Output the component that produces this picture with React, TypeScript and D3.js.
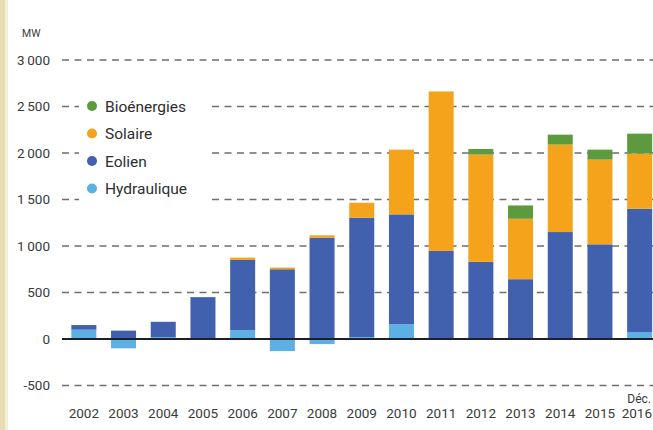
import React from "react";
import * as d3 from "d3";

const years = ["2002","2003","2004","2005","2006","2007","2008","2009","2010","2011","2012","2013","2014","2015","2016"];
const hydraulique = [100, -100, 20, 0, 95, -130, -55, 20, 160, 0, 0, 0, 0, 0, 75];
const eolien = [50, 90, 165, 450, 755, 750, 1090, 1285, 1180, 947, 829, 643, 1150, 1018, 1325];
const solaire = [0, 0, 0, 0, 25, 18, 25, 160, 696, 1715, 1154, 650, 940, 911, 594];
const bioenergies = [0, 0, 0, 0, 0, 0, 0, 0, 0, 0, 60, 143, 107, 107, 214];
const yTicks = [-500, 0, 500, 1000, 1500, 2000, 2500, 3000];
const seriesKeys = ["hydraulique", "eolien", "solaire", "bioenergies"];
const legendItems = [
  { key: "bioenergies", label: "Bioénergies" },
  { key: "solaire", label: "Solaire" },
  { key: "eolien", label: "Eolien" },
  { key: "hydraulique", label: "Hydraulique" },
];

const colors: Record<string, string> = {
  bioenergies: "#5c9a3d",
  solaire: "#f6a31c",
  eolien: "#4161ae",
  hydraulique: "#5cb0e4",
};

const W = 653;
const H = 430;
const font = "Roboto, 'DejaVu Sans', sans-serif";

export default function App() {
  const table = years.map((y, i) => ({
    year: y,
    hydraulique: hydraulique[i],
    eolien: eolien[i],
    solaire: solaire[i],
    bioenergies: bioenergies[i],
  }));
  const stacked = d3
    .stack<any>()
    .keys(seriesKeys)
    .offset(d3.stackOffsetDiverging)(table);

  const x = d3
    .scaleBand<string>()
    .domain(years)
    .range([64, 659.5])
    .paddingInner(0.37)
    .paddingOuter(0.185);
  const y = d3.scaleLinear().domain([-500, 3000]).range([385.5, 60]);

  const gridStart = 62;
  const lastYear = years[years.length - 1];

  return (
    <div style={{ position: "fixed", left: 0, top: 0, width: W, height: H, background: "#fff" }}>
      <svg width={W} height={H} style={{ display: "block" }}>
        <rect x={0} y={0} width={W} height={H} fill="#fff" />
        <rect x={0} y={0} width={5} height={H} fill="#e7ddb3" />
        <rect x={5} y={0} width={3} height={H} fill="#f3eed6" />
        {/* gridlines */}
        {yTicks.filter((t) => t !== 0).map((t) => (
          <line
            key={t}
            x1={gridStart}
            x2={W}
            y1={y(t)}
            y2={y(t)}
            stroke="#6e6e6e"
            strokeWidth={1.4}
            strokeDasharray="7 5.5"
          />
        ))}
        {/* y tick labels */}
        {yTicks.map((t) => (
          <text
            key={"l" + t}
            x={50}
            y={y(t)}
            dy="0.35em"
            textAnchor="end"
            fontFamily={font}
            fontSize={13.5}
            fill="#3a3a3a"
          >
            {t === -500 ? "-500" : d3.format(",")(t).replace(",", "\u2009")}
          </text>
        ))}
        <text x={22} y={37} fontFamily={font} fontSize={10.5} fill="#3a3a3a">
          MW
        </text>
        {/* legend background */}
        <rect x={79} y={92} width={132} height={110} fill="#fff" />
        {legendItems.map((it, i) => (
          <g key={it.key} transform={`translate(0, ${106 + i * 27.5})`}>
            <circle cx={92} cy={0} r={5} fill={colors[it.key]} />
            <text x={105} y={0} dy="0.36em" fontFamily={font} fontSize={15.5} fill="#2e2e2e">
              {it.label}
            </text>
          </g>
        ))}
        {/* bars */}
        {stacked.map((s) => (
          <g key={s.key} fill={colors[s.key]}>
            {s.map((d, i) => {
              const y0 = y(d[0]);
              const y1 = y(d[1]);
              const top = Math.min(y0, y1);
              const h = Math.abs(y0 - y1);
              if (h < 0.01) return null;
              return (
                <rect
                  key={i}
                  x={x(years[i])}
                  y={top}
                  width={x.bandwidth()}
                  height={h}
                />
              );
            })}
          </g>
        ))}
        {/* zero line */}
        <line x1={gridStart} x2={W} y1={y(0)} y2={y(0)} stroke="#1f1f2a" strokeWidth={2.2} />
        {/* x labels */}
        {years.map((yr) => {
          const isLast = yr === lastYear;
          return (
            <text
              key={yr}
              x={isLast ? 652 : (x(yr) as number) + x.bandwidth() / 2}
              y={418}
              textAnchor={isLast ? "end" : "middle"}
              fontFamily={font}
              fontSize={13.5}
              fill="#3a3a3a"
            >
              {yr}
            </text>
          );
        })}
        <text
          x={651}
          y={403}
          textAnchor="end"
          fontFamily={font}
          fontSize={12}
          fill="#3a3a3a"
        >
          Déc.
        </text>
      </svg>
    </div>
  );
}
